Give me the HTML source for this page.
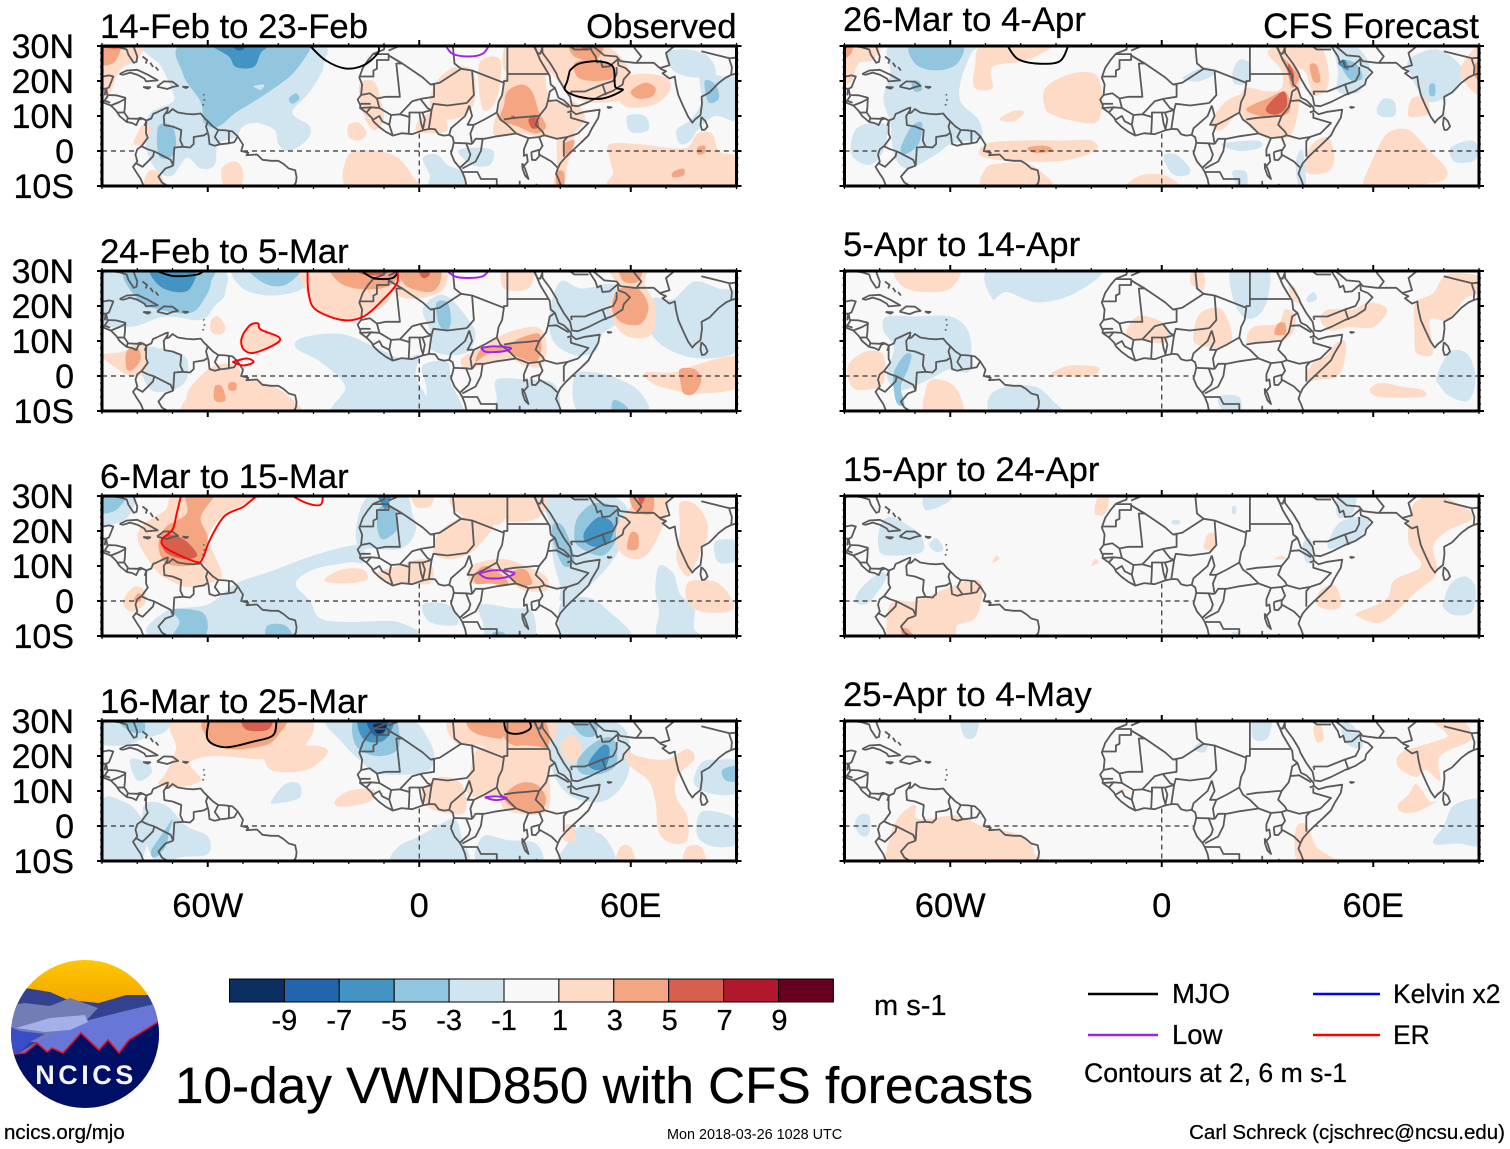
<!DOCTYPE html>
<html lang="en">
<head>
<meta charset="utf-8">
<title>10-day VWND850 with CFS forecasts</title>
<style>
html,body{margin:0;padding:0;background:#fff;width:1510px;height:1149px;overflow:hidden}
svg{display:block}
text{font-family:"Liberation Sans",Arial,sans-serif;fill:#000;stroke:#000;stroke-width:.25px}
</style>
</head>
<body>
<svg id="chart" xmlns="http://www.w3.org/2000/svg" width="1510" height="1149" viewBox="0 0 1510 1149">
  <rect x="0" y="0" width="1510" height="1149" fill="#ffffff"/>
  <g id="panels"></g>
  <g id="colorbar"></g>
  <text x="874" y="1015" font-size="29">m s-1</text>

  <g>
    <defs>
      <clipPath id="logoClip"><ellipse cx="85" cy="1034" rx="74" ry="74"/></clipPath>
      <linearGradient id="sunGrad" x1="0" y1="0" x2="0" y2="1"><stop offset="0" stop-color="#ffc800"/><stop offset="1" stop-color="#f0a000"/></linearGradient>
    </defs>
    <g clip-path="url(#logoClip)">
      <rect x="8" y="958" width="154" height="56" fill="url(#sunGrad)"/>
      <polygon points="8,988 25,988 50,992 68,1000 99,1003 126,995 151,995 165,1010 165,1060 8,1060" fill="#34418f"/>
      <polygon points="8,1006 24,1003 50,1006 70,998 98,1008 85,1022 40,1042 8,1042" fill="#717db4"/>
      <polygon points="85,1021 125,1011 155,1004 165,1018 165,1070 8,1070 8,1060 40,1040" fill="#6876d8"/>
      <polygon points="16,1028 50,1018 85,1015 88,1022 70,1030 45,1032" fill="#a3b0ea"/>
      <polygon points="8,1026 20,1031 45,1034 30,1042 18,1054 8,1056" fill="#3a4cc8"/>
      <polygon points="8,1056 14,1054 25,1053 37,1043 47,1052 52,1048 63,1053 81,1033 99,1050 108,1040 119,1053 129,1040 158,1022 165,1018 165,1112 8,1112" fill="#000f66" stroke="#e8121e" stroke-width="1.6"/>
    </g>
    <text x="86" y="1084" font-size="27" font-weight="bold" text-anchor="middle" letter-spacing="3.5" style="fill:#f4f4fa;stroke:none">NCICS</text>
  </g>

  <text x="175" y="1103" font-size="51.3">10-day VWND850 with CFS forecasts</text>

  <g>
    <line x1="1088" y1="994" x2="1158" y2="994" stroke="#000" stroke-width="2.4"/>
    <text x="1172" y="1003" font-size="27.5">MJO</text>
    <line x1="1313" y1="994" x2="1380" y2="994" stroke="#0000ff" stroke-width="2.4"/>
    <text x="1393" y="1003" font-size="26.5">Kelvin x2</text>
    <line x1="1088" y1="1035" x2="1158" y2="1035" stroke="#a020f0" stroke-width="2.4"/>
    <text x="1172" y="1044" font-size="27.5">Low</text>
    <line x1="1313" y1="1035" x2="1380" y2="1035" stroke="#ff0000" stroke-width="2.4"/>
    <text x="1393" y="1044" font-size="26.5">ER</text>
    <text x="1084" y="1082" font-size="26.6">Contours at 2, 6 m s-1</text>
  </g>

  <text x="4" y="1139" font-size="20.5">ncics.org/mjo</text>
  <text x="667" y="1139" font-size="14.4" style="stroke:none">Mon 2018-03-26 1028 UTC</text>
  <text x="1505" y="1139" font-size="20.5" text-anchor="end">Carl Schreck (cjschrec@ncsu.edu)</text>
</svg>

<script>
/* ---------- labels and ticks ---------- */
const panelTitles = ["14-Feb to 23-Feb","24-Feb to 5-Mar","6-Mar to 15-Mar","16-Mar to 25-Mar","26-Mar to 4-Apr","5-Apr to 14-Apr","15-Apr to 24-Apr","25-Apr to 4-May"];
const latTickValues = [30,20,10,0,-10];
const latTickLabels = ["30N","20N","10N","0","10S"];
const lonTickValues = [-60,0,60];
const lonTickLabels = ["60W","0","60E"];
const colorLevels = [-9,-7,-5,-3,-1,1,3,5,7,9];
const colorbarColors = ["#0a2f60","#2166ac","#4393c3","#92c5de","#d1e5f0","#f8f8f8","#fddbc7","#f4a582","#d6604d","#b2182b","#67001f"];

/* ---------- ocean-only reference line extents (degrees) ---------- */
const equatorSegments = [[-90,-80],[-50,9],[43,90]];
const meridianSegment = [5,-10];

/* ---------- coastlines and borders: lon,lat pairs ---------- */
const coastlines = [
 [-90,21.2,-88,21.6,-86.8,21.3,-87.5,19.5,-88,18.2,-88.8,17.8,-88.5,16,-86,15.9,-83.4,15.2,-83.5,12.5,-83.7,11,-82.5,9.3,-80,9.2,-79,9.5,-77.4,8.7,-76,9.3,-75.5,10.6,-74.5,11,-72,12.2,-71.3,12.4,-71.6,10.8,-71,11,-70,12,-68.5,11,-66,10.6,-64,10.5,-62,10.7,-61,9.5,-60,8.5,-58.5,7,-57,6,-55,5.9,-53,5.6,-51.5,4.2,-50,1.8,-50.5,0,-48.5,-0.5,-49,-1.2,-46,-1,-44.5,-2.5,-42,-2.8,-40,-2.8,-38.5,-3.7,-37,-5,-35.2,-5.5,-34.8,-7.5,-35,-9,-36,-10.5],
 [-77.4,8.7,-78.5,9.3,-79.6,8.9,-80.3,7.4,-81.5,8,-83,8.3,-85,10,-86,11.5,-87.5,13,-90,14],
 [-77.4,8.7,-77.5,7.5,-77.5,5,-77,3.8,-78.7,1.5,-80,0.5,-80.5,-1,-80,-3,-81.2,-4.5,-80,-6.5,-79,-8,-78,-10.5],
 [-90,29.2,-89,30.2,-85,29.6,-83,29,-82.5,27.5,-81,25.2,-80.2,25.5,-80,27,-81.3,30.5],
 [-85,22,-83,23,-80,23.2,-77,21.8,-74.2,20.2,-77.5,19.9,-78,20.7,-80,21.8,-82,22.4,-84,21.8,-85,22],
 [-74.4,18.4,-72.5,19.9,-70,19.8,-68.4,18.6,-70,18.3,-71.5,17.7,-74.4,18.4],
 [-78.3,18.3,-76.3,18.2,-77,17.8,-78.3,18.3],
 [-67.2,18.4,-65.6,18.3,-66.2,18,-67.2,18.4],
 [-78.5,27,-77.2,26,-77.6,25],[-76.3,25.2,-75.5,24],[-74.8,24,-74,23],
 [-61.2,16.2,-61,15.9],[-61,14.8,-60.9,14.4],[-61.4,13.4,-61.2,13],
 [-9.8,30.5,-10,29,-13,27.8,-14.5,26,-16,23.8,-17,21,-16.2,19,-16.5,16,-17.5,14.7,-16.7,13,-16.8,12.3,-15,11,-13.5,9.5,-13,8.5,-11.5,7,-9.5,5.5,-7.5,4.4,-5,5.1,-2,4.8,1,5.9,3,6.3,4.5,6.2,5.5,4.8,7,4.4,8.5,4.6,9.5,3.9,9.8,2.5,9.5,1,9,-0.7,10,-3,11.5,-4.8,12.2,-6,13,-8,13.5,-10.5],
 [32.5,30.5,33.5,28,34.3,26,35.5,24,37,21.5,37.3,19,38.5,18,39.5,15.2,41,14.5,43,12.5,43.2,11.5,44.5,10.5,47,11.2,51.2,11.8,50.8,9.5,49,6.5,48,4.5,46,2.5,43,-0.3,41.5,-1.8,40,-3.5,39.3,-5,38.8,-6.5,39.5,-8,40.4,-10.5],
 [32.5,30,33.5,28,34.3,27.8,34.9,29.5,35,28,37.2,25,39,22,39.3,21,41,18,42.8,15.5,43.3,13,45,12.8,48,14,52,16,55,17.2,57.7,19,58,20.5,59.8,22.5,58.5,23.7,56.5,24.5,56.3,26.2,54,24.2,52,24,51.5,25.8,50.5,25.3,50,27,48.5,29.3,48,30.5],
 [48.5,30.5,50.5,29,52.5,27.3,56,27,57,25.7,61,25.2,66.5,25.2,67,24.8,68.5,23.5,70,22.8,69,22.2,71,20.7,72.5,21.3,72.8,19,73.5,16,74.8,13,76.3,9.8,77.5,8.1,78.2,9,79.8,10.3,80.2,13.5,80.1,15.5,82.3,16.7,85,19.5,87,21,88.5,21.7,91,22.5],
 [80,9.7,81.2,8.5,81.8,7,81,6.1,80.2,6,79.8,7.5,80,9.7],
 [53.3,12.6,54.5,12.5,53.8,12.3,53.3,12.6],
 [31.8,-0.3,34,0.3,34,-1.5,33,-2.6,32,-2.5,31.8,-0.3],
 [29.2,-3.5,30,-5,31,-8,30,-7,29.3,-5,29.2,-3.5]
];
const borders = [
 [-71.3,11.8,-72.5,10,-72.3,7.4,-70,7,-67.5,6,-67.8,3,-67,1.2],
 [-67,1.2,-69.5,1,-69.8,-4.2],
 [-69.8,-4.2,-70.5,-2.5,-75.2,-0.1,-77,0.5,-78.7,1.3],
 [-75.2,-0.1,-75.5,-1.5,-78.5,-4.5,-80.3,-3.5],
 [-69.8,-4.2,-72,-5,-74,-7.3,-73,-9,-70.5,-10.5],
 [-67,1.2,-65,1,-64,2,-64,4,-61,4.5,-60,5.2],
 [-60,5.2,-60.5,7,-60,8.5],
 [-60,5.2,-59.8,4.5,-59.5,2,-58,1.5,-56.5,1.9],
 [-56.5,1.9,-58,4,-57,6],
 [-54,2.2,-54,5.8],
 [-56.5,1.9,-54,2.2,-52.5,2.5,-51.5,4.2],
 [-83,8.2,-82.7,9.5],[-85.7,11,-83.7,11],[-87.5,13,-85,14,-83.2,15],[-87.7,13.8,-89.3,14.4,-88.3,15.8],[-77.4,8.7,-77.9,7.2],[-90,17.8,-89,17.8,-89.2,15.9],[-90,14,-89.3,14.4],
 [-13,27.7,-8.7,27.7,-8.7,26,-12,26,-12,23.5,-13,23,-13,21.3,-17,21.3],
 [-8.7,27.3,-4.8,25,-6.5,25,-5.5,15.5,-9.5,15.5,-12,15,-14,16.5,-16.5,16],
 [-8.7,28.7,-4.5,30.5],
 [-8.7,27.3,-4.8,25,1,21,3.2,19,5.8,19.5,11.9,23.5,15,23,24,19.5],
 [9.5,30.5,10,25,11.9,23.5],
 [25,30.5,25,20,24,20,24,19.5],
 [25,22,36.8,22],
 [24,19.5,23.5,16,22.5,14,22,11,23,9,25,7.5,27.5,5],
 [15,23,15.5,16,13.5,13.7],
 [3.2,19,4.2,19,4.2,15.5,1,15,0,14.8,-2,14.2,-5.5,10.5,-8,10.3,-11.3,12.3,-12,15],
 [3.5,11.7,4,13.5,8,13,13.5,13.7],
 [3.5,11.7,2.7,6.3],[1,6,1.6,9,0.9,11],[1.1,6.1,0.5,8,0,11],[-3,5.1,-2.8,9,-2.8,11],
 [-5.5,10.5,-2.8,9.7,-2.8,11,1,11,3.5,11.7],[0.3,14.9,2.4,12.2,3.5,11.7],
 [-7.5,4.4,-8.5,7.5,-8,10.3],[-8.5,7.5,-10.5,8.5,-11.3,10,-13,9],[-15,11,-13.7,12.5,-11.3,12.3],[-16.7,13.5,-13.8,13.5],
 [-16.8,12.3,-13.7,12.5],
 [8.5,4.6,9,6.5,13,10,14.2,13],[14.2,13,15,10,13.7,7.5,15.5,7.5,18.5,9,22,11],[15.5,7.5,14.5,5,15,2],
 [9.8,2.3,13.3,2.2,15,2],[13.3,2.2,14.5,-1,14,-2.5,11.5,-4.8],[12.2,-5,16,-3,17.5,0,18,3.5],[15,2,16,3.5,18.5,3.5,22,4.2,27.5,5],
 [24,9,27,9.5,30,9.7,33,10,34,10],[27.5,5,31,3.7,34,4,35.5,4.5],[34,10,33,7.5,35,5.5,35.5,4.5],
 [34,10,36,12.5,36.5,14.3,37,17,38.5,18],[36.5,14.3,39,14.5,42.4,12.5],[42,11,43.2,11.5],[43,11,43,9.5,48,8,45,5,42,4],
 [35.5,4.5,39,3.5,42,4,41,2.8,41,-1.6],[34,4,35,1.5,34,0],[34,-1,37.5,-3,39.2,-4.7],[31,3.7,29.7,0.5,29.7,-1.4,30.5,-1,30.8,-3,29.5,-4.5],
 [12.2,-6,16.5,-6,17.5,-8,22,-8,22,-10.5],[28.5,-8.5,28.5,-10.5],[33,-9.5,34.5,-10.5],
 [43,17,47,17,52,19,55,20,56,22,56,24],[48,29,44,29,42,30.5],[52,19,53,16],[43,17,43.3,16],
 [68.2,23.7,71,24.5,70,28,73,30.5],[80,28.5,88,26.5,88,26,88.7,24,88.5,21.7],[61.5,25,63,27,61,29.5,61,30.5],[90,26,90,23],[88,26.5,91,26.8],[73,30.5,78,30.5]
];

/* ---------- filled anomaly regions: [value in m/s, lon,lat outline] ---------- */
const fillsP1 = [
 [-2,[-76,31,-73,24,-70,17,-70,14,-76,11,-78,6,-77,-1,-74,-6,-70,-7,-66,-2,-62,-5,-58,-4,-57,2,-52,4,-50,7,-46,8,-41,6,-40,2,-37,0,-32,3,-31,7,-36,11,-31,17,-27,25,-31,31]],
 [-2,[1,-2,5,-1,8,-4,12,-6,13,-11,3,-11,3,-7]],[-2,[-20,-11,-19,-7,-15,-7,-14,-11]],[-2,[11,0,16,1,21,0,20,-4,15,-4]],[-2,[37,12,41,13,41,10,38,9]],
 [-2,[59,10,64,10,65,6,60,5.5]],[-2,[80,22,88,21,91,22,91,9,84,10,79,6,77,3,74,2,73,6,77,9,80,14]],[-2,[70,28,76,29,82,27,84,22,78,21,72,23]],
 [-4,[81,20,84,19,85,15,82,14]],
 [-4,[-66,31,-67,22,-62,14,-61,8,-57,7,-52,11,-44,16,-36,22,-31,29,-31,31]],
 [-6,[-59,31,-54,27,-52,24,-47,24,-45,28,-43,31]],[-8,[-53,31,-52,29,-50,29,-49,31]],
 [-4,[-74,7,-70,7,-69,1,-71,-2,-74,-1]],[-4,[-37,15,-35,16.5,-34,15,-36,13.5]],[-2,[-47,18.5,-44,19,-45,17.5]],
 [2,[-91,31,-91,16,-88,16,-86,21,-84,24,-80,26,-79,31]],[4,[-91,31,-91,25,-87,25,-85,28,-85,31]],
 [2,[-20,-11,-20,-1,-12,0,-6,-2,-2,-7,-1,-11]],[2,[-20,7.5,-17,8,-15,5,-17,3,-20,4]],[2,[-55,-11,-56,-5,-52,-3,-50,-6,-51,-11]],[2,[-78,-11,-77,-6,-74,-6,-72,-11]],
 [2,[-80,5,-78,8,-76,6,-78,2,-81,2]],
 [2,[-17,19,-13,20,-11,15,-10,9,-13,6,-16,11]],[2,[1,10,6,11,8,6,3,5,-1,6]],[2,[3,14,5,20,10,24,15,23,16,16,14,11,9,9,5,10]],[2,[17,25,23,26,22,15,18,12]],
 [2,[21,7,23,14,24,20,26,22,35,22,36,18,38,14,44,14,47,9,42,4,36,4,28,5,22,4]],[2,[25,31,25,22,37,22,35,31]],
 [4,[25,17,29,19,32,17,34,11,36,7,33,5,28,7,23,9,24,13]],[6,[31,9,33,10,34,7,32,6.5]],[6,[26,10,27,10,27,9]],
 [2,[40,8,43,8,44,2,42,-4,41,-11,38,-11,39,-4,39,3]],[4,[39,-6,41,-6,41,-10,39,-10]],[4,[41,2,44,3,43,0,41,-1]],
 [2,[35,31,36,25,42,17,48,14,58,15,60,22,56,28,50,31]],[4,[44,25,48,26,54,25,55,21,50,20,45,21]],[4,[43,31,44,27,50,26,52,31]],[6,[46,31,46.5,29,49,29,49,31]],
 [2,[56,19,62,22,70,21,71,17,66,13,58,13]],[4,[60,17,64,19.5,67,18,66,15.5,62,15]],
 [2,[54,2,62,2,70,1,76,1,79,5,83,5,85,0,89,-1,91,-2,91,-11,56,-11,55,-6,54,-2]],[4,[72,-6,75,-5,75,-7,72,-7.5]],[4,[79,1,81,1.5,81,-0.5,79,-1]]
];
const fillsP2 = [
 [-2,[-91,31,-91,16,-82,14,-72,17,-62,16,-58,20,-55,24,-58,31]],[-4,[-83,31,-80,22,-74,19,-65,18,-61,22,-59,27,-60,31]],[-6,[-76,31,-74,26,-69,24,-65,25,-64,31]],
 [-2,[-52,31,-50,25,-42,23,-33,25,-31,31]],[-4,[-48,31,-44,26.5,-38,26,-34,31]],
 [-2,[-78,8,-74,8,-70,7,-66,5,-66,-1,-70,-4,-76,-4,-79,2]],
 [-2,[-33,11,-22,12,-12,8,-5,5,0,6,-1,0,2,-11,-24,-11,-21,-3,-28,4,-35,8]],[-2,[1,3,8,4,9,-2,12,-8,12,-11,3,-11,2,-3]],
 [-2,[1,19,5,23,9,22,14,16,16,12,14,7,8,6,3,8,3,13]],[-4,[5,21,8,21,9,16,8,13,6,14,5,17]],
 [-2,[40,27,46,25,56,26,58,17,52,12,50,7,44,6,38,10,37,18]],[-2,[66,22,72,22,78,27,85,25,91,23,91,8,80,5,70,8,65,14]],
 [-2,[22,-1,30,-1,38,-2,40,-8,38,-11,23,-11,22,-6]],[-2,[44,0,50,1,57,-1,63,-5,64,-11,46,-11]],[-4,[55,-7,58,-8,60,-11,55,-11]],
 [2,[-32,31,-32,24,-29,19,-22,16,-16,17,-9,21,-7,27,-7,31]],[2,[-7,31,-7,24,-2,22,6,24,8,28,7,31]],
 [4,[-24,31,-23,27,-18,25,-11,25,-7,27,-6,31]],[6,[-18,31,-16,29,-10,29,-9,31]],[4,[-5,31,-4,26,3,24,6,27,5,31]],[6,[-0.5,31,1,28,3,29,2,31]],
 [2,[24,31,24,25,31,25,32,31]],
 [2,[54,31,56,26,54,20,56,14,60,11,66,12,67,20,64,26,64,31]],[4,[55,22,57,25,62,25,65,20,63,15,58,15,55,18]],[4,[57,31,58,27,62,27,63,31]],
 [2,[12,5,17,8,24,12,33,14,36,10,35,3,30,3,25,5,18,3,13,2]],[4,[16,4,18,8,25,9,29,11,34,12,34.5,7,33,4,29,5,24,7,19,6]],
 [2,[-59,16,-57,17,-55,14,-56,12,-59,12.5]],[2,[-50,12,-48,15,-45,15,-45,13,-40,11,-41,9,-47,6.5,-50,7.5,-51,10]],
 [2,[-66,-6,-64,-2,-58,3,-52,3,-50,0,-44,-2,-38,-5,-35,-11,-65,-11]],[4,[-58,-3,-56,-3,-55,-7,-58,-7]],[4,[-54,-2,-52,-2,-52,-4,-54,-4]],
 [2,[-90,6,-84,7,-79,10,-77,7,-78,1,-82,0,-87,3]],[4,[-83,7,-80,8,-79,5,-81,2,-83,2]],
 [2,[64,1,72,1,78,3,85,5,91,5,91,-3,80,-5,72,-4,66,-2]],[4,[74,2,78,2,80,-1,78,-5,75,-5,74,-1]]
];
const fillsP3 = [
 [-2,[-91,31,-91,22,-84,23,-81,27,-81,31]],[-4,[-91,31,-91,25.5,-86,26,-83,31]],
 [-2,[-17,16,-30,13,-42,8.5,-52,5,-60,-1,-72,-3,-72,-11,-5,-11,-6,-6,-20,-6,-28,-5,-31,0,-35,5,-30,9,-20,11,-16,11]],
 [-4,[-70,-2.5,-62,-3,-60,-7,-62,-11,-70,-11,-68,-6]],[-4,[-43,-7,-38,-7,-36,-11,-43,-11]],
 [-2,[-18,20,-16,28,-12,31,-4,31,-2,25,-1,20,-5,15,-14,15,-17,15]],[-4,[-12,22,-11,27,-7,26,-6,21,-9,18,-11,18]],[-6,[-12,31,-10,26.5,-9,27,-8,31]],
 [-2,[1,-1,8,-1,11,-5,10,-7,3,-6]],[-2,[17,-1,26,-2,32,-3,32,-11,20,-11,18,-6]],[-4,[21,-9,24,-9,24,-11,21,-11]],
 [-2,[35,31,37,22,38,12,40,4,40,0,44,1,52,8,57,15,60,21,58,28,50,31]],[-4,[38,22,41,21,44,12,41,10,38,17]],[-4,[45,24,50,28,56,26,56,18,52,13,46,15,44,18]],[-6,[47,20,51,24,55,22,54,17,50,15.5,47,17]],
 [-2,[40,-1,48,1,55,-4,60,-9,58,-11,42,-11]],[-2,[68,10,72,8,74,2,78,-2,78,-8,81,-11,68,-11,68,-3,67,3]],[-2,[84,17,91,17,91,12,85,11]],
 [2,[-68,31,-72,26,-78,22,-80,18,-77,12,-74,8,-71,6,-66,4,-60,5,-56,7,-58,13,-60,18,-56,24,-49,28,-44,31]],
 [4,[-66,31,-66,25,-72,21,-74,16,-72,11,-66,10,-62,12,-60,18,-62,24,-58,31]],[6,[-73,18,-70,19,-66,17,-63,13,-67,12,-72,14]],
 [2,[-84,0,-81,4,-78,3,-78,-1,-82,-3]],[4,[-80,2,-79,2,-79,0,-81,0]],
 [2,[-27,6,-22,9,-16,9,-15,6,-22,5]],[2,[-12,8,-6,10,1,12,4,9,3,5,-3,5,-9,5]],
 [2,[4,14,6,20,12,24,16,26,21,22,17,16,13,13,8,12]],[2,[10,31,10,26,19,22,24,23,24,31]],[2,[-2,31,-1,27,3,27,4,31]],[2,[25,31,25,23,34,24,36,31]],
 [2,[14,9,17,11,24,12,30,10,36,7,36,3,30,3,26,5,22,6,15,5]],[4,[16,8,19,10,24,7,25,4.5,20,5,16,5]],[4,[26,8,30,9,32,5,28,4.5]],
 [2,[57,14,56,21,60,27,64,31,70,30,70,24,66,15,62,12]],[4,[59,15,60,19.5,62,19,62,15]],[4,[60,31,61,26,66,25,66,31]],[6,[62,30,63,27.5,64,30]],
 [2,[74,28,79,27,82,20,78,10,76,7,73,12,74,20]],[2,[76,5,80,6,85,5,89,0,88,-3,80,-3,76,0]]
];
const fillsP4 = [
 [2,[-68,31,-69,22,-72,15,-74,12,-69,11,-62,13,-65,18,-58,20,-44,19,-35,20,-32,31]],[2,[-43,22,-30,23,-26,21,-32,16,-42,16]],
 [4,[-60,31,-60,25,-54,22,-44,23,-40,26,-39,31]],[6,[-50,31,-49,27.5,-43,27.5,-42,31]],[2,[-24,7,-20,10,-13,10.5,-14,7,-22,5.5]],
 [-2,[-91,31,-91,24,-84,23,-78,25,-72,27,-72,31]],[-4,[-86,31,-82,27,-78,27,-79,31]],[-2,[-82,19,-77,18,-76,15,-80,13]],
 [-2,[-90,7,-84,7,-80,4,-77,-2,-80,-11,-90,-11]],[-2,[-78,6,-72,6,-66,0,-60,-3,-60,-8,-68,-9,-74,-11,-78,-3]],[-4,[-76,-7,-72,-1,-70,2,-71,-2,-72,-6,-75,-9]],
 [-2,[-42,7,-38,12,-34,12,-34,8,-40,6.5]],
 [-2,[-26,31,-22,24,-16,18,-12,15,0,15,4,18,3,24,-4,31]],[-4,[-18,31,-18,23,-12,20,-6,22,-6,29,-7,31]],[-6,[-17,31,-16,25,-11,24,-8,27,-8,31]],[-8,[-15,31,-13,26,-10,26.5,-9,31]],[-10,[-13,29,-12,26.5,-10,27,-9.5,29]],
 [-2,[-7,-11,-6,-6,0,-3,5,0,10,2,12,-3,13,-11]],[-2,[17,-11,18,-3,25,-4,33,-5,34,-11]],
 [-2,[35,31,36,22,39,13,44,8,52,7,58,12,60,20,58,28,50,31]],[-4,[45,19,50,24,55,25,56,18,52,15,46,15]],[-6,[48,18,52,23,54,22,53,17,50,16]],[-4,[43,31,46,26,50,26,50,31]],
 [-2,[39,-11,42,-5,44,-1,49,0,50,-4,48,-11]],[-2,[78,12,80,18,85,19,91,18,91,10,84,9]],[-4,[86,16,90,17,91,13,87,13]],[-2,[80,4,88,3,91,-1,91,-5,84,-6,79,-3]],[-2,[45,-3,51,-2,55,-7,55,-11,47,-11]],
 [2,[10,31,10,24,17,23,24,22,36,22,37,31]],[4,[14,31,15,27,22,25,24,26,24,31]],[4,[25,31,25,24,36,22,35,31]],
 [2,[14,9,15,18,17,22,24,22,24,10]],[2,[24,22,36,22,37,14,36,4,26,4,23,7,23,14]],[4,[24,8,28,12,33,12,36,8,34,4,28,4.5]],
 [2,[1,10,6,14,12,12,13,4,6,4,2,6]],[2,[40,23,44,26,46,21,43,18]],
 [2,[58,22,62,20,70,19,76,22,78,19,73,14,73,8,76,3,76,-4,72,-5,68,-2,67,7,65,13,60,17]],
 [2,[56,-11,57,-6,60,-6,61,-11]],[2,[75,-11,76,-6,80,-6,81,-11]],[2,[41,0,44,0,44,-4,41,-4]]
];
const fillsP5 = [
 [2,[-91,31,-91,20,-88,20,-86,25,-82,26,-80,31]],[4,[-91,31,-91,26,-88,28,-88,31]],
 [-2,[-76,31,-77,22,-79,15,-77,8,-76,-1,-72,-5,-64,-1,-60,2,-54,3,-51,4,-52,9,-57,14,-57,20,-54,28,-52,31]],[-2,[-88,-1,-87,6,-82,8,-78,7,-79,0,-83,-4]],
 [-4,[-71,31,-70,25,-64,23,-58,25,-57,31]],[-4,[-74,1,-71,7,-68,8,-69,2,-73,-1]],[-4,[-71,19.5,-69,20,-68,17.5,-70,17]],
 [2,[-53,18,-53,24,-50,31,-31,31,-38,26,-48,24,-48,18]],[2,[-33,12,-33,18,-26,22,-19,22,-17,17,-17,12,-19,8,-27,9,-30,10]],[2,[-46,9,-42,11.5,-39,11,-42,8.5]],
 [2,[-50,2,-40,3,-28,3,-20,3,-19,0,-30,-3,-50,-2]],[4,[-38,1,-33,1.5,-31,0,-36,-0.5]],[2,[-50,-5,-45,-3.5,-37,-4,-31,-11,-50,-11]],[2,[-10,-11,-6,-7,1,-7,5,-11]],
 [-2,[0.5,-1.5,4,-1,8,-5,7,-7,3,-6.5]],[-2,[6,21,12,24,15,22,11,20,8,20]],[-2,[20,22,22,26,25,25,25,20,21,19]],[-2,[20,-6,24,-6,24,-11,22,-11]],[-2,[17,2,27,3,28,1,22,0]],
 [2,[14,8,18,14,23,16,22,12,17,6]],[2,[30,28,33,30,37,31,39,22,39,13,36,4,28,5,24,8,22,14,24,18,30,17,34,18,34,23]],
 [4,[24,12,30,15,35,17,36.5,12,34,10,28,10]],[6,[30,13,34.5,17,35.5,13,33,10.5,30,11]],[4,[34,27,37,24,39,21,37,18,35.5,23]],[6,[36,25,37.5,22,37,19.5,36,22]],
 [2,[37,31,44,31,47,25,47,18,43,16,41,22,38,25]],[4,[42,24.5,44,24.5,45,20,43,20]],
 [-2,[49,31,50,23,50,17,56,17,59,24,55,30]],[-4,[51,26,55,25,57,21,54,20,51.5,23]],[-6,[50,25,52,26,53,23]],
 [-2,[70,26,78,29,85,24,84,18,80,15,76,14,73,17,71,21]],[-4,[76,19,77.5,19,77.5,16,76,16]],[-2,[61,12,63,15,66,14,66,10,62,10]],[2,[70,10,71,15,75,15,76,11,74,10]],
 [2,[86,26,91,30,91,16,85,21]],[4,[89,25,91,25,91,20,89,21]],
 [2,[57,-11,60,-2,64,5,70,6,76,0,80,-4,81,-7,78,-9,68,-10,64,-11]],[2,[41,-6,42,1,47,4,49,-2,47,-6]],[-2,[82,1,88,3,90,0,88,-3,83,-3]],[-2,[40,0,41,-11,39,-11,38,-3]]
];
const fillsP6 = [
 [2,[-75,31,-74,26,-68,24,-60,25,-58,31]],[-2,[-48,31,-48,22,-44,24,-35,21,-24,24,-18,31]],
 [-2,[-78,17,-70,17,-60,17,-55,13,-54,6,-55,1,-60,2,-66,-1,-74,-4,-78,0,-76,8,-79,13]],[-4,[-76,1,-73,6,-71,6,-72,2,-74,-3,-73,-8,-75,-8,-76,-4]],
 [-2,[-49,-6,-44,-3,-36,-3,-31,-7,-29,-11,-47,-11]],[2,[-89,3,-84,7,-79,6,-79,-2,-84,-4,-88,-3]],[2,[-67,-4,-65,-1,-60,-2,-57,-6,-57,-11,-67,-11]],[2,[-31,1,-26,3,-18,2.5,-20,0,-30,0]],
 [2,[8,27,9,30,12,29,12,25,10,25]],[-2,[20,23,20,31,30,31,30,22,27,17,23,17]],[-2,[41,22,43,24,44,22,42,21]],
 [2,[24,10,26,14,33,15,35,19,38,17,37,12,33,10,27,9.5]],[4,[32,12,33,15,35,15,35,12]],
 [2,[-10,12,-7,17,-1,16,2,13,1,9.5,-5,10]],[2,[9,12,11,18,17,19,20,11,17,8,10,9]],[2,[36,26,38,25,39,21,37,22]],
 [2,[45,16,47,19,54,19,59,21,64,19,60,14,53,14,48,13]],[2,[72.3,6.6,77,6.6,76,16,81,16,86,22,90,24,90,28.4,81,29,77,23.7,72,20.8,71.7,12.3]],[2,[41,-1,43,4,47,6,49,9,52,10,52,5,50,0,45,-1]],
 [-2,[78,0,82,7,87,6,89,-1,87,-7,82,-6,79,-3]],[2,[59,-4,62,-2,68,-3,74,-4,74,-6,62,-6]],[-2,[16,-6,22,-6,22,-11,18,-11]]
];
const fillsP7 = [
 [-2,[-67,31,-67,26,-61,28,-59,31]],[-2,[-80,14,-80,21,-77,24,-71,21,-68,18,-68,14,-75,13]],[-2,[-66,16,-64,18,-62,15,-64,14]],[-2,[-87,0,-85,4,-80,8,-78,7,-81,2,-84,-1]],
 [-2,[47,16,50,22,55,24,59,23,55,17,49,15]],[-2,[50,24,50,30,55,30,54,25]],[-2,[80,0,82,5,86,7,89,4,88,-3,83,-4,80,-2]],[-2,[20,-9,22,-9,22,-11,20,-11]],[-2,[3,23,5,23,5,22,3,22]],[-2,[20,27,21,27,21,25,20,25]],[-2,[40,16,42,18,43,12,41,11]],
 [2,[-78,-5,-76,0,-70,0,-60,4,-52,6,-51,1,-53,-5,-58,-7,-60,-11,-76,-11]],[4,[-74,-8,-72,-8,-70,-11,-73,-11]],
 [2,[55.7,-3.3,63.7,0.5,66,6,73.6,10,70,16.6,71,27,76,30,82,29,88.4,24,81,20,77,15.6,78,8,72,2.4,62.5,-6,55.7,-4.4]],
 [2,[44,-1,45,3,49,4.5,51,-1,48,-2.5]],[2,[12,15,13,19,15,19,15,15]],[2,[-19,25,-18,30,-15,30,-16,25]],[2,[32,12,34,13,35,12]],[2,[-48,11,-47,13,-46,12]],[2,[-20,10,-19,12,-18,11]]
];
const fillsP8 = [
 [2,[-78,-7,-75,2,-70,6,-69,2,-58,3,-51,0,-39,-3,-36,-8,-36,-11,-76,-11]],[2,[38,-1,41,0.5,44,-6,50,-10,50,-11,39,-11]],[2,[43,28,45,29,46,25,44,24]],
 [2,[76,31,84,31,88,25,79,20,79,13,75,16,72,14,67,17,68,21,77,24,81,26]],[2,[67,6,70,9,72,12,74,10,76,7,78,7,72,4,68,4]],
 [-2,[-57,31,-56,25.5,-53,25.5,-52,31]],[-2,[-87,0,-86,3,-83,3,-83,-2,-85,-3]],[-2,[26,31,26,25,30,25,31,31]],[-2,[9,22,11,24,13,23,12,21]],[-2,[51,29,52,24,56,22,57,24,54,29]],[-2,[77,-5,80,0,83,6,91,7,91,-5,84,-5]],
 [2,[-13,10,-11,10.5,-10,10]]
];
const panelFills = [fillsP1,fillsP2,fillsP3,fillsP4,fillsP5,fillsP6,fillsP7,fillsP8];

/* ---------- filtered wave contours: lon,lat lines ---------- */
const mjoContours = [
 [[-31.4,30.5,-26.7,26,-21,23.6,-15.8,24.5,-11.7,28,-11.7,30.5],[42.7,23,45.4,25,51,25.6,55,24,55.6,18.4,57.7,17.4,52,15,45.4,15.5,41.4,17.4,42,20,42.7,23]],
 [[-75.6,30.5,-70,28.6,-63,29,-60.7,30.5],[-17,30.5,-13,28,-7.6,28,-5.6,30.5]],
 [],
 [[-59.6,30.5,-60,24.7,-55,22.5,-46.8,24.2,-41.4,26,-40.5,30.5],[24,30.5,24.8,27,28.4,26.4,31.6,28,31,30.5]],
 [[-44,30.5,-41,26.4,-35.7,25,-29,25.6,-26.4,30.5]],
 [],[],[]
];
const lowContours = [
 [[7.3,30.5,9.4,27.8,14,27,18,27.8,20,30.5]],
 [[7.5,30.5,10,28.5,14,28,18,28.5,20,30.5],[17.5,8,21,8.5,26,8,23.5,7,19,6.9,17.5,8]],
 [[16.9,7.9,21.6,8.8,27,8,23.7,6.6,19,6.6,16.9,7.9]],
 [[18.6,8.2,21.6,8.5,24.8,8,21.6,7.4,18.6,8.2]],
 [],[],[],[]
];
const erContours = [
 [[-90,29.8,-86,29.6,-81,30]],
 [[-31.7,30.5,-31.4,23.7,-29.4,19,-21.9,16,-15.8,17,-10.3,21.8,-6.3,26.5,-6.3,30.5],[-49.8,12.3,-47.8,14.7,-45.7,15,-45,13.3,-39.7,11,-41,9,-47,6.6,-49.8,7.6,-50.5,10,-49.8,12.3],[-53,4,-49,5,-47,4,-49.8,3,-53,4]],
 [[-67.5,30.5,-68.8,25,-70,20.4,-73,17.5,-71.7,15,-63.4,11.2,-61.4,12.3,-59.4,17.5,-55.3,24.2,-49.8,27,-45.7,30.5],[-36.9,30.5,-32,28,-28,27.5,-27.3,30.5]],
 [],[],[],[],[]
];

/* ---------- axis functions ---------- */
const SVGNS = "http://www.w3.org/2000/svg";
const PANEL_W = 634.5, PANEL_H = 140;
function xAxis(lon, left){ return left + (lon + 90) * PANEL_W / 180; }
function yAxis(lat, top){ return top + (30 - lat) * PANEL_H / 40; }
function colorFor(v){
  for (let i = 0; i < colorLevels.length; i++) if (v < colorLevels[i]) return colorbarColors[i];
  return colorbarColors[colorbarColors.length - 1];
}
function mk(tag, attrs, parent){
  const el = document.createElementNS(SVGNS, tag);
  for (const k in attrs) el.setAttribute(k, attrs[k]);
  parent.appendChild(el);
  return el;
}
function toXY(arr, left, top){
  const p = [];
  for (let i = 0; i + 1 < arr.length; i += 2) p.push([xAxis(arr[i], left), yAxis(arr[i+1], top)]);
  return p;
}
function smoothClosed(p){
  const n = p.length;
  let d = "M" + p[0][0].toFixed(1) + " " + p[0][1].toFixed(1);
  for (let i = 0; i < n; i++){
    const a = p[(i-1+n)%n], b = p[i], c = p[(i+1)%n], e = p[(i+2)%n];
    d += "C" + (b[0]+(c[0]-a[0])/6).toFixed(1) + " " + (b[1]+(c[1]-a[1])/6).toFixed(1) + " " +
         (c[0]-(e[0]-b[0])/6).toFixed(1) + " " + (c[1]-(e[1]-b[1])/6).toFixed(1) + " " +
         c[0].toFixed(1) + " " + c[1].toFixed(1);
  }
  return d + "Z";
}
function smoothOpen(p){
  const n = p.length;
  let d = "M" + p[0][0].toFixed(1) + " " + p[0][1].toFixed(1);
  for (let i = 0; i < n - 1; i++){
    const a = p[Math.max(i-1,0)], b = p[i], c = p[i+1], e = p[Math.min(i+2,n-1)];
    d += "C" + (b[0]+(c[0]-a[0])/6).toFixed(1) + " " + (b[1]+(c[1]-a[1])/6).toFixed(1) + " " +
         (c[0]-(e[0]-b[0])/6).toFixed(1) + " " + (c[1]-(e[1]-b[1])/6).toFixed(1) + " " +
         c[0].toFixed(1) + " " + c[1].toFixed(1);
  }
  return d;
}
function straight(p){
  return p.map((q,i)=>(i?"L":"M")+q[0].toFixed(1)+" "+q[1].toFixed(1)).join("");
}

/* ---------- panels ---------- */
const root = document.getElementById("panels");
panelTitles.forEach(function(title, i){
  const col = i < 4 ? 0 : 1, row = i % 4;
  const left = 102 + col * 742.5, top = 46 + row * 225;
  const right = left + PANEL_W, bottom = top + PANEL_H;

  const g = mk("g", {}, root);
  
  

  const defs = mk("defs", {}, g);
  const cp = mk("clipPath", {id: "clipP" + i}, defs);
  mk("rect", {x: left, y: top, width: PANEL_W, height: PANEL_H}, cp);

  const bg = mk("rect", {x: left, y: top, width: PANEL_W, height: PANEL_H, fill: colorFor(0)}, g);
  
  

  const clipG = mk("g", {"clip-path": "url(#clipP" + i + ")"}, g);

  panelFills[i].forEach(function(f){
    const blob = mk("path", {d: smoothClosed(toXY(f[1], left, top)), fill: colorFor(f[0])}, clipG);
    
    
  });

  equatorSegments.forEach(function(s){
    const eq = mk("line", {x1: xAxis(s[0], left), x2: xAxis(s[1], left), y1: yAxis(0, top), y2: yAxis(0, top), stroke: "#333", "stroke-width": 1.2, "stroke-dasharray": "5 4"}, clipG);
    
    
  });
  const mer = mk("line", {x1: xAxis(0, left), x2: xAxis(0, left), y1: yAxis(meridianSegment[0], top), y2: yAxis(meridianSegment[1], top), stroke: "#333", "stroke-width": 1.2, "stroke-dasharray": "5 4"}, clipG);
  
  

  borders.concat(coastlines).forEach(function(c){
    const line = mk("path", {d: straight(toXY(c, left, top)), fill: "none", stroke: "#595959", "stroke-width": 1.8, "stroke-linejoin": "round"}, clipG);
    
    
  });

  [[mjoContours, "#000000", "mjo-contour"], [lowContours, "#a020f0", "low-contour"], [erContours, "#ff0000", "er-contour"]].forEach(function(set){
    set[0][i].forEach(function(c){
      const cl = mk("path", {d: smoothOpen(toXY(c, left, top)), fill: "none", stroke: set[1], "stroke-width": 1.9}, clipG);
      
      
    });
  });

  /* ticks */
  const ticks = mk("g", {stroke: "#000"}, g);
  
  
  for (let lon = -90; lon <= 90; lon += 10){
    const major = lonTickValues.indexOf(lon) >= 0;
    const len = major ? 6 : 3, x = xAxis(lon, left);
    mk("line", {x1: x, x2: x, y1: top, y2: top - len, "stroke-width": major ? 2 : 1.2}, ticks);
    mk("line", {x1: x, x2: x, y1: bottom, y2: bottom + len, "stroke-width": major ? 2 : 1.2}, ticks);
  }
  for (let lat = -10; lat <= 30; lat += 2){
    const major = latTickValues.indexOf(lat) >= 0;
    const len = major ? 5 : 2, y = yAxis(lat, top);
    mk("line", {x1: left, x2: left - len, y1: y, y2: y, "stroke-width": major ? 2 : 1}, ticks);
    mk("line", {x1: right, x2: right + len, y1: y, y2: y, "stroke-width": major ? 2 : 1}, ticks);
  }

  const frame = mk("rect", {x: left, y: top, width: PANEL_W, height: PANEL_H, fill: "none", stroke: "#000", "stroke-width": 3}, g);
  
  

  const tt = mk("text", {x: col ? 843 : 100, y: (col ? 31 : 38) + row * 225, "font-size": 34.7}, g);
  tt.textContent = title;
  
  

  if (col === 0){
    latTickValues.forEach(function(lat, k){
      const lb = mk("text", {x: 74, y: yAxis(lat, top) + 12, "font-size": 34, "text-anchor": "end"}, g);
      lb.textContent = latTickLabels[k];
      
      
    });
  }
  if (row === 3){
    lonTickValues.forEach(function(lon, k){
      const lb = mk("text", {x: xAxis(lon, left), y: 917, "font-size": 34.5, "text-anchor": "middle"}, g);
      lb.textContent = lonTickLabels[k];
      
      
    });
  }
  if (row === 0){
    const hd = mk("text", {x: right, y: 38, "font-size": col ? 35 : 34.7, "text-anchor": "end"}, g);
    hd.textContent = col ? "CFS Forecast" : "Observed";
    
    
  }
});

/* ---------- colorbar ---------- */
const cb = document.getElementById("colorbar");
const CB_X = 229.5, CB_Y = 979, CB_BOX = 54.9, CB_H = 23;
colorbarColors.forEach(function(c, i){
  const box = mk("rect", {x: CB_X + i * CB_BOX, y: CB_Y, width: CB_BOX, height: CB_H, fill: c, stroke: "#000", "stroke-width": 1}, cb);
  
  
});
colorLevels.forEach(function(v, i){
  const t = mk("text", {x: CB_X + (i + 1) * CB_BOX - (v < 0 ? 0 : -1), y: 1030, "font-size": 29, "text-anchor": "middle"}, cb);
  t.textContent = String(v);
  
  
});
</script>
</body>
</html>
